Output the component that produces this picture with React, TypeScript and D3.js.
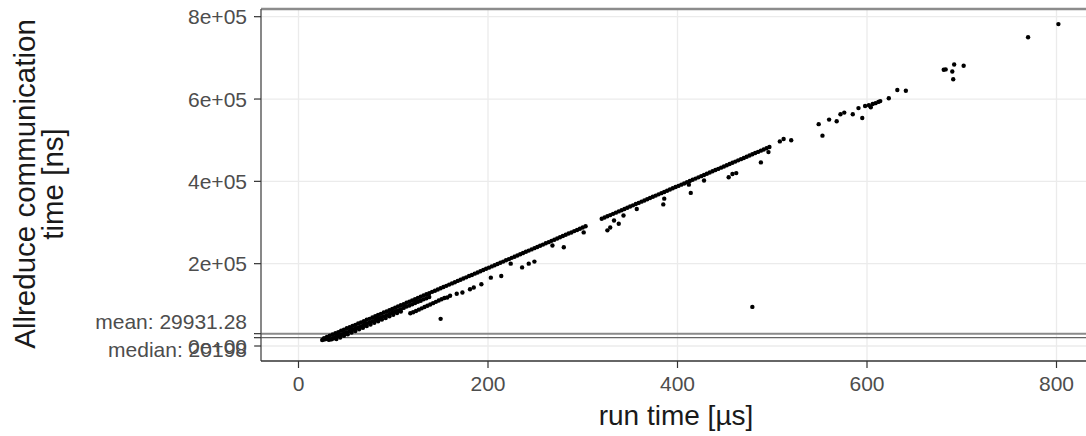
import React from "react";
import * as d3 from "d3";

// Allreduce timing scatter: communication time (ns) vs. total run time (µs)

// Main ridge, first stretch (run time µs / comm time ns)
const ridgeA_x = [27, 30, 33, 36, 39, 42, 45, 48, 51, 54, 57, 60, 63, 66, 69, 72, 75, 78, 81, 84, 87, 90, 93, 96, 99, 102, 105, 108, 111, 114, 117, 120, 123, 126, 129, 132, 135, 138, 141, 144, 147, 150, 153, 156, 159, 162, 165, 168, 171, 174, 177, 180, 183, 186, 189, 192, 195, 198, 201, 204, 207, 210, 213, 216, 219, 222, 225, 228, 231, 234, 237, 240, 243, 246, 249, 252, 255, 258, 261, 264, 267, 270, 273, 276, 279, 282, 285, 288, 291, 294, 297, 300, 303];
const ridgeA_y = [19000, 22100, 25300, 27800, 31200, 33600, 36900, 39500, 43000, 45400, 48800, 51300, 54700, 57400, 60200, 63600, 66000, 69500, 72100, 75400, 78000, 81300, 84100, 87200, 89900, 93100, 95800, 99200, 101700, 105000, 107600, 110900, 113500, 116900, 119500, 122600, 125600, 128400, 131500, 134200, 137400, 140200, 143300, 146100, 149200, 152100, 155000, 158100, 160800, 164000, 166800, 169900, 172600, 175800, 178500, 181700, 184500, 187500, 190400, 193400, 196300, 199300, 202300, 205100, 208200, 211000, 214100, 216900, 220000, 222800, 225900, 228800, 231800, 234700, 237700, 240600, 243600, 246400, 249600, 252300, 255500, 258200, 261300, 264200, 267200, 270100, 273200, 275900, 279100, 281900, 285000, 287900, 290800];

// Main ridge, second stretch
const ridgeB_x = [320, 323, 326, 329, 332, 335, 338, 341, 344, 347, 350, 353, 356, 359, 362, 365, 368, 371, 374, 377, 380, 383, 386, 389, 392, 395, 398, 401, 404, 407, 410, 413, 416, 419, 422, 425, 428, 431, 434, 437, 440, 443, 446, 449, 452, 455, 458, 461, 464, 467, 470, 473, 476, 479, 482, 485, 488, 491, 494, 497];
const ridgeB_y = [309200, 312100, 315200, 318000, 321100, 324000, 327000, 329900, 333000, 335800, 338900, 341700, 344800, 347600, 350700, 353500, 356600, 359400, 362500, 365400, 368400, 371300, 374300, 377200, 380200, 383100, 386100, 389000, 392000, 394900, 397900, 400800, 403800, 406700, 409700, 412600, 415600, 418500, 421500, 424400, 427400, 430300, 433300, 436200, 439200, 442100, 445100, 448000, 451000, 453900, 456900, 459800, 462800, 465700, 468700, 471600, 474600, 477500, 480400, 483400];

// Slower runs just under the ridge at short run times
const bandA_x = [33, 36, 39, 42, 45, 48, 51, 54, 57, 60, 63, 66, 69, 72, 75, 78, 81, 84, 87, 90, 93, 96, 99, 102, 105, 108, 111, 114, 117, 120, 123, 126, 129, 132, 135, 138];
const bandA_y = [16000, 19100, 21800, 24900, 27600, 30800, 33500, 36700, 39400, 42600, 45300, 48400, 51200, 54300, 57100, 60200, 63000, 66100, 68900, 72000, 74800, 77900, 80700, 83900, 86600, 89700, 92500, 95700, 98400, 101500, 104300, 107500, 110100, 113300, 116000, 119100];

const bandB_x = [25, 27, 29, 31, 32, 35, 37, 40, 44, 48, 52, 56, 60, 64, 68, 72, 76, 80, 84, 88, 92, 96, 100, 104, 108];
const bandB_y = [14500, 15800, 17000, 18400, 14900, 16500, 18600, 16900, 20800, 24800, 28700, 32700, 36600, 40500, 44500, 48400, 52400, 56300, 60200, 64200, 68100, 72100, 76000, 79900, 83900];

const streak_x = [118, 121, 124, 127, 130, 133, 136, 139, 142, 145, 148, 151, 154, 157];
const streak_y = [79500, 82000, 85200, 88300, 91500, 94600, 97800, 101000, 104100, 107300, 110400, 113600, 116700, 117900];

// Isolated runs
const scatter_x = [150, 160, 167, 173, 181, 185, 193, 203, 214, 224, 236, 243, 249, 268, 280, 301, 326, 329, 333, 338, 343, 357, 385, 386, 412, 414, 428, 454, 458, 462, 479, 488, 496, 508, 512, 520, 549, 553, 560, 568, 572, 576, 585, 591, 595, 598, 602, 604, 606, 609, 612, 614, 623, 632, 641, 681, 683, 690, 691, 692, 702, 770, 802];
const scatter_y = [66000, 122000, 127000, 130000, 138000, 142000, 150000, 166000, 170000, 200000, 191000, 200000, 205000, 244000, 240000, 276000, 281000, 288000, 305000, 297000, 317000, 333000, 344000, 358000, 392000, 372000, 402000, 410000, 418000, 420000, 95000, 446000, 471000, 497000, 503000, 500000, 539000, 511000, 550000, 546000, 563000, 567000, 563000, 578000, 554000, 583000, 585000, 580000, 588000, 590000, 593000, 595000, 602000, 622000, 620000, 671000, 672000, 667000, 648000, 684000, 681000, 750000, 782000];

const meanTime = 29931.28;
const medianTime = 20198;

const xTicks = [0, 200, 400, 600, 800];
const yTicks = [0, 200000, 400000, 600000, 800000];
const yTickLabels = ["0e+00", "2e+05", "4e+05", "6e+05", "8e+05"];

const xTitle = "run time [µs]";
const yTitleLines = ["Allreduce communication", "time [ns]"];

const W = 1086;
const H = 436;
const panel = { left: 261, top: 9, right: 1110, bottom: 361 };
const FONT = "'Liberation Sans', Arial, Helvetica, sans-serif";

export default function App() {
  const x = d3.scaleLinear().domain([0, 800]).range([298.5, 1056.5]);
  const y = d3.scaleLinear().domain([0, 800000]).range([346, 16.7]);

  const groups: [number[], number[]][] = [
    [ridgeA_x, ridgeA_y],
    [ridgeB_x, ridgeB_y],
    [bandA_x, bandA_y],
    [bandB_x, bandB_y],
    [streak_x, streak_y],
    [scatter_x, scatter_y],
  ];
  const points = groups.flatMap(([xs, ys]) => xs.map((v, i) => [v, ys[i]] as [number, number]));

  const tickColor = "#4d4d4d";
  const tickSize = 21;

  return (
    <svg width={W} height={H} style={{ position: "absolute", left: 0, top: 0, background: "#fff" }} fontFamily={FONT}>
      <defs>
        <clipPath id="panel-clip">
          <rect x={panel.left} y={panel.top} width={panel.right - panel.left} height={panel.bottom - panel.top} />
        </clipPath>
      </defs>
      <rect x={0} y={0} width={W} height={H} fill="#fff" />

      {/* grid */}
      <g clipPath="url(#panel-clip)">
        {yTicks.map((t) => (
          <line key={"gy" + t} x1={panel.left} x2={panel.right} y1={y(t)} y2={y(t)} stroke="#ebebeb" strokeWidth={1.3} />
        ))}
        {xTicks.map((t) => (
          <line key={"gx" + t} x1={x(t)} x2={x(t)} y1={panel.top} y2={panel.bottom} stroke="#ebebeb" strokeWidth={1.3} />
        ))}
        {/* mean / median reference lines */}
        <line x1={panel.left} x2={panel.right} y1={y(meanTime)} y2={y(meanTime)} stroke="#8a8a8a" strokeWidth={2} />
        <line x1={panel.left} x2={panel.right} y1={y(medianTime)} y2={y(medianTime)} stroke="#666" strokeWidth={1.2} />

        {points.map(([px, py], i) => (
          <circle key={i} cx={x(px)} cy={y(py)} r={2.2} fill="#000" />
        ))}
      </g>

      {/* panel border */}
      <line x1={panel.left} x2={panel.right} y1={panel.top} y2={panel.top} stroke="#8c8c8c" strokeWidth={2.6} />
      <line x1={panel.left} x2={panel.left} y1={panel.top} y2={panel.bottom} stroke="#555" strokeWidth={1.4} />
      <line x1={panel.left} x2={panel.right} y1={panel.bottom} y2={panel.bottom} stroke="#333" strokeWidth={1.3} />

      {/* y axis ticks and labels */}
      {[...yTicks, meanTime, medianTime].map((t, i) => (
        <line key={"ty" + i} x1={panel.left - 7} x2={panel.left} y1={y(t)} y2={y(t)} stroke="#333" strokeWidth={1.2} />
      ))}
      {yTicks.map((t, i) => (
        <text key={"ly" + t} x={247} y={y(t)} textAnchor="end" dominantBaseline="central" fontSize={tickSize} fill={tickColor}>
          {yTickLabels[i]}
        </text>
      ))}
      <text x={247} y={y(meanTime) - 12.5} textAnchor="end" dominantBaseline="central" fontSize={tickSize} fill={tickColor}>
        {`mean: ${meanTime}`}
      </text>
      <text x={247} y={y(medianTime) + 12} textAnchor="end" dominantBaseline="central" fontSize={tickSize} fill={tickColor}>
        {`median: ${medianTime}`}
      </text>

      {/* x axis ticks and labels */}
      {xTicks.map((t) => (
        <g key={"tx" + t}>
          <line x1={x(t)} x2={x(t)} y1={panel.bottom} y2={panel.bottom + 7} stroke="#333" strokeWidth={1.2} />
          <text x={x(t)} y={383} textAnchor="middle" dominantBaseline="central" fontSize={tickSize} fill={tickColor}>
            {t}
          </text>
        </g>
      ))}

      {/* axis titles */}
      <text x={676} y={425} textAnchor="middle" fontSize={28} fill="#1a1a1a">
        {xTitle}
      </text>
      {yTitleLines.map((line, i) => (
        <text key={line} transform={`translate(${35 + i * 28}, 184) rotate(-90)`} textAnchor="middle" fontSize={29.5} fill="#1a1a1a">
          {line}
        </text>
      ))}
    </svg>
  );
}
